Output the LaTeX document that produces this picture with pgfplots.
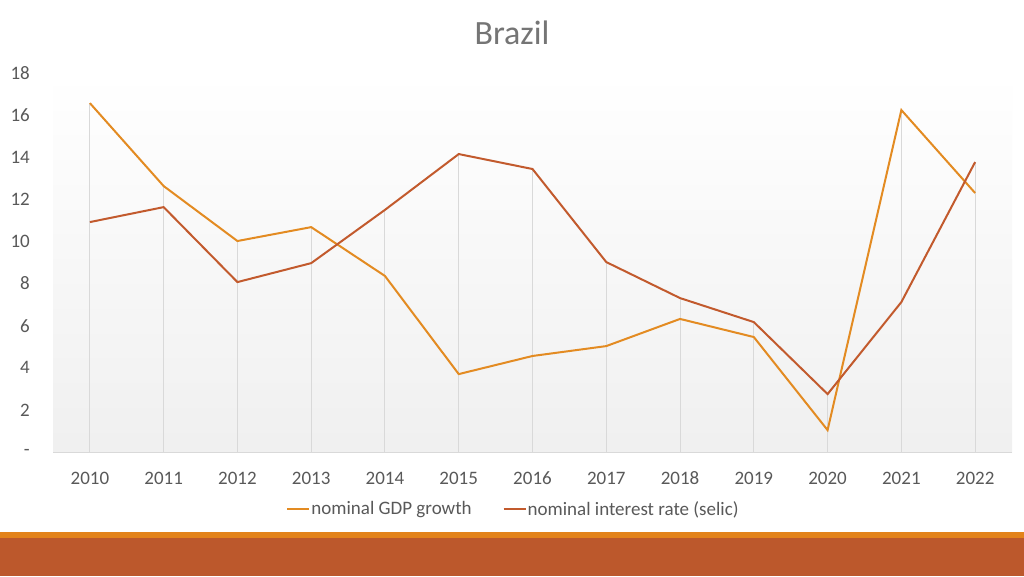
\documentclass[border=0pt]{standalone}
\usepackage{pgfplots}
\pgfplotsset{compat=1.18}
\usepackage{fontspec}
\setmainfont{Carlito}
\definecolor{gdp}{HTML}{E38B22}
\definecolor{selic}{HTML}{C25A2D}
\definecolor{bandA}{HTML}{E3831B}
\definecolor{bandB}{HTML}{BC582C}
\definecolor{txt}{HTML}{595959}
\definecolor{ttl}{HTML}{757575}
\definecolor{grid}{HTML}{D9D9D9}
\begin{document}
\begin{tikzpicture}[x=1pt,y=1pt]
\useasboundingbox (0,0) rectangle (1024,576);
\fill[white] (0,0) rectangle (1024,576);
\fill[bandB] (0,0) rectangle (1024,38);
\fill[bandA] (0,38) rectangle (1024,44);
\node[font=\fontsize{34}{40}\selectfont, text=ttl] at (512,543) {Brazil};
\begin{axis}[
  at={(53pt,124pt)}, anchor=south west,
  scale only axis, width=959pt, height=379pt,
  xmin=-0.5, xmax=12.5, ymin=0, ymax=18,
  xtick={0,...,12},
  xticklabels={2010,2011,2012,2013,2014,2015,2016,2017,2018,2019,2020,2021,2022},
  ytick={0,2,...,18},
  yticklabels={-,2,4,6,8,10,12,14,16,18},
  major tick length=0pt,
  axis lines=left,
  axis line style={-},
  y axis line style={draw=none},
  x axis line style={draw=grid, line width=1pt},
  axis background/.style={shade, top color=white, bottom color=black!6},
  /pgf/number format/assume math mode=true,
  tick label style={font=\fontsize{19}{22}\selectfont, text=txt},
  yticklabel style={anchor=east, inner sep=0pt, xshift=-23pt},
  xticklabel style={anchor=base, inner sep=0pt, yshift=-32pt},
  legend style={at={(0.4797,-0.1504)}, anchor=center, draw=none, fill=none,
    font=\fontsize{19}{22}\selectfont, text=txt,
    nodes={inner sep=1pt},
    /tikz/every even column/.append style={column sep=30pt}},
  legend columns=2,
  legend image code/.code={\draw[#1] (0pt,0pt) -- (22pt,0pt);},
  clip=false,
]
\addplot[ycomb, draw=grid, line width=1pt, forget plot] coordinates {
(0,16.57) (1,12.63) (2,10.02) (3,10.68) (4,11.5) (5,14.15) (6,13.44)
(7,9.02) (8,7.31) (9,6.17) (10,2.75) (11,16.24) (12,13.77)};
\addplot[gdp, line width=2pt] coordinates {
(0,16.57) (1,12.63) (2,10.02) (3,10.68) (4,8.36) (5,3.70) (6,4.56)
(7,5.03) (8,6.32) (9,5.46) (10,1.04) (11,16.24) (12,12.30)};
\addlegendentry{nominal GDP growth}
\addplot[selic, line width=2pt] coordinates {
(0,10.92) (1,11.63) (2,8.07) (3,8.97) (4,11.5) (5,14.15) (6,13.44)
(7,9.02) (8,7.31) (9,6.17) (10,2.75) (11,7.12) (12,13.77)};
\addlegendentry{nominal interest rate (selic)}
\end{axis}
\end{tikzpicture}
\end{document}
